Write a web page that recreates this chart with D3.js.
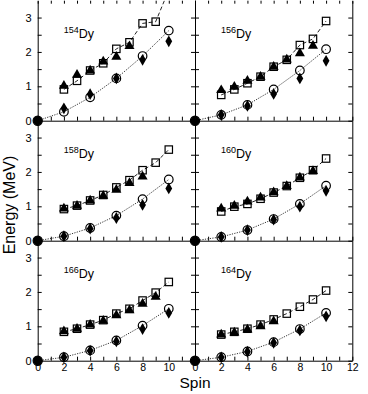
<!DOCTYPE html>
<head>
  <meta charset="utf-8">
  <title>Dy spin energy</title>
  <style>
    body { margin: 0; background: #fff; }
    svg text { font-family: "Liberation Sans", Arial, sans-serif; fill: #000; }
    .axis path, .axis line { stroke: #000; stroke-width: 1; }
  </style>
</head>

<body>
  <div id="chart"></div>
<script src="https://cdn.jsdelivr.net/npm/d3@7/dist/d3.min.js"></script>
<script>

// panels in reading order (left, right) per row
var isotopes = ["154", "156", "158", "160", "166", "164"];

var bandSpins = [2, 3, 4, 5, 6, 7, 8, 9, 10];
var gsbSpins = [0, 2, 4, 6, 8, 10];

// open squares + dashed line (gamma band, calc)
var gammaCalc = [
  [0.91, 1.16, 1.46, 1.67, 2.09, 2.28, 2.83, 2.88, 3.80],
  [0.75, 0.91, 1.09, 1.28, 1.57, 1.77, 2.20, 2.38, 2.90],
  [0.92, 1.02, 1.17, 1.33, 1.55, 1.76, 2.05, 2.27, 2.65],
  [0.85, 0.99, 1.07, 1.22, 1.40, 1.59, 1.83, 2.05, 2.39],
  [0.84, 0.93, 1.05, 1.18, 1.37, 1.51, 1.75, 1.98, 2.29],
  [0.76, 0.84, 0.93, 1.05, 1.20, 1.37, 1.57, 1.78, 2.04]
];

// filled triangles (gamma band, exp) starting at spin 2
var gammaExp = [
  [1.04, 1.36, 1.48, 1.74, 1.88, 2.19],
  [0.91, 1.01, 1.18, 1.30, 1.59, 1.80, 1.98, 2.20],
  [0.96, 1.04, 1.19, 1.33, 1.50, 1.70, 1.89],
  [0.96, 1.04, 1.16, 1.28, 1.43, 1.61, 1.86, 2.05],
  [0.88, 0.95, 1.07, 1.18, 1.34, 1.49, 1.68, 1.88],
  [0.78, 0.84, 0.93, 1.02, 1.17]
];

// open circles + dotted line (ground band, calc), spins 0..10
var gsbCalc = [
  [0, 0.26, 0.68, 1.23, 1.88, 2.62],
  [0, 0.17, 0.46, 0.91, 1.46, 2.08],
  [0, 0.13, 0.37, 0.73, 1.21, 1.78],
  [0, 0.11, 0.31, 0.63, 1.07, 1.60],
  [0, 0.10, 0.30, 0.59, 1.02, 1.51],
  [0, 0.10, 0.27, 0.54, 0.92, 1.39]
];

// filled diamonds (ground band, exp), spins 2..10
var gsbExp = [
  [0.36, 0.77, 1.23, 1.77, 2.31],
  [0.17, 0.43, 0.78, 1.23, 1.74],
  [0.13, 0.35, 0.66, 1.04, 1.52],
  [0.11, 0.31, 0.61, 0.99, 1.45],
  [0.10, 0.29, 0.56, 0.92, 1.39],
  [0.10, 0.26, 0.52, 0.88, 1.29]
];

var xTicks = d3.range(0, 13);
var yTicks = [0, 0.5, 1, 1.5, 2, 2.5, 3];

var width = 368,
    height = 394;

var left = 37.7, mid = 195, right = 352.3;
var top0 = 0.7, panelH = 120;

var svg = d3.select("#chart").append("svg")
    .attr("width", width)
    .attr("height", height);

var defs = svg.append("defs");

var line = d3.line()
    .x(function(d) { return d.x; })
    .y(function(d) { return d.y; });

var sym = function(type, size) {
  return d3.symbol().type(type).size(size)();
};

isotopes.forEach(function(iso, i) {
  var col = i % 2, row = Math.floor(i / 2);
  var x0 = col == 0 ? left : mid,
      x1 = col == 0 ? mid : right,
      yTop = top0 + row * panelH,
      yBot = yTop + panelH;

  var x = d3.scaleLinear().domain([0, 12]).range([x0, x1]);
  var y = d3.scaleLinear().domain([0, 3.49]).range([yBot, yTop]);

  var g = svg.append("g");
  var last = row == 2;

  // x ticks on the bottom edge, pointing up
  var xAxis = d3.axisBottom(x)
      .tickValues(xTicks)
      .tickSize(-4)
      .tickSizeOuter(0)
      .tickPadding(3)
      .tickFormat(function(d) {
        if (!last || d % 2) return "";
        if (col == 0 && d == 12) return "";
        return d;
      });
  g.append("g").attr("class", "axis")
      .attr("transform", "translate(0," + yBot + ")")
      .call(xAxis)
      .call(function(a) {
        a.selectAll("text").style("font-size", "10.5px");
      });

  if (row == 0) {
    g.append("g").attr("class", "axis")
        .attr("transform", "translate(0," + yTop + ")")
        .call(d3.axisTop(x).tickValues(xTicks).tickSize(-3).tickFormat(""))
        .call(function(a) { a.select(".domain").remove(); });
  }

  // y ticks, inward on both sides
  var yl = d3.axisLeft(y)
      .tickValues(yTicks)
      .tickSize(-4)
      .tickSizeOuter(0)
      .tickPadding(6)
      .tickFormat(function(d) {
        return (col == 0 && d % 1 === 0) ? d : "";
      });
  g.append("g").attr("class", "axis")
      .attr("transform", "translate(" + x0 + ",0)")
      .call(yl)
      .call(function(a) {
        a.selectAll("text").style("font-size", "11px");
      });

  g.append("g").attr("class", "axis")
      .attr("transform", "translate(" + x1 + ",0)")
      .call(d3.axisRight(y).tickValues(yTicks).tickSize(-4).tickSizeOuter(0).tickFormat(""));

  // clip for lines leaving the top of the panel
  defs.append("clipPath").attr("id", "clip" + i)
    .append("rect")
      .attr("x", x0 - 10).attr("y", yTop)
      .attr("width", x1 - x0 + 20).attr("height", panelH + 10);

  var body = g.append("g").attr("clip-path", "url(#clip" + i + ")");

  var sq = gammaCalc[i].map(function(v, k) {
    return {x: x(bandSpins[k]), y: y(v)};
  });
  var tri = gammaExp[i].map(function(v, k) {
    return {x: x(bandSpins[k]), y: y(v)};
  });
  var circ = gsbCalc[i].map(function(v, k) {
    return {x: x(gsbSpins[k]), y: y(v), s: gsbSpins[k]};
  });
  var dia = gsbExp[i].map(function(v, k) {
    return {x: x(gsbSpins[k + 1]), y: y(v)};
  });

  body.append("path")
      .attr("d", line(sq))
      .attr("fill", "none")
      .attr("stroke", "#222")
      .attr("stroke-width", 1)
      .attr("stroke-dasharray", "4,2.5");

  body.append("path")
      .attr("d", line(circ))
      .attr("fill", "none")
      .attr("stroke", "#333")
      .attr("stroke-width", 1)
      .attr("stroke-dasharray", "1.2,1.3");

  // markers
  body.selectAll(".tri").data(tri).enter().append("path")
      .attr("transform", function(d) { return "translate(" + d.x + "," + (d.y + 0.8) + ")"; })
      .attr("d", sym(d3.symbolTriangle, 44))
      .attr("fill", "#000");

  body.selectAll(".sq").data(sq).enter().append("rect")
      .attr("x", function(d) { return d.x - 3.7; })
      .attr("y", function(d) { return d.y - 3.7; })
      .attr("width", 7.4)
      .attr("height", 7.4)
      .attr("fill", "none")
      .attr("stroke", "#000")
      .attr("stroke-width", 1.2);

  body.selectAll(".dia").data(dia).enter().append("path")
      .attr("transform", function(d) { return "translate(" + d.x + "," + d.y + ")"; })
      .attr("d", sym(d3.symbolDiamond, 40))
      .attr("fill", "#000");

  body.selectAll(".circ").data(circ).enter().append("circle")
      .attr("cx", function(d) { return d.x; })
      .attr("cy", function(d) { return d.y; })
      .attr("r", function(d) { return d.s == 0 ? 4.6 : 4.3; })
      .attr("fill", function(d) { return d.s == 0 ? "#000" : "none"; })
      .attr("stroke", "#000")
      .attr("stroke-width", 1.2);

  // isotope label
  var lab = g.append("text")
      .attr("x", x0 + 26)
      .attr("y", yTop + 37)
      .style("font-size", "12.5px");
  lab.append("tspan")
      .attr("dy", -5)
      .style("font-size", "9px")
      .text(iso);
  lab.append("tspan")
      .attr("dy", 5)
      .text("Dy");
});

svg.append("text")
    .attr("transform", "translate(15,205) rotate(-90)")
    .attr("text-anchor", "middle")
    .style("font-size", "16px")
    .text("Energy (MeV)");

svg.append("text")
    .attr("x", 195)
    .attr("y", 388)
    .attr("text-anchor", "middle")
    .style("font-size", "15.5px")
    .text("Spin");

</script>
</body>
</html>
